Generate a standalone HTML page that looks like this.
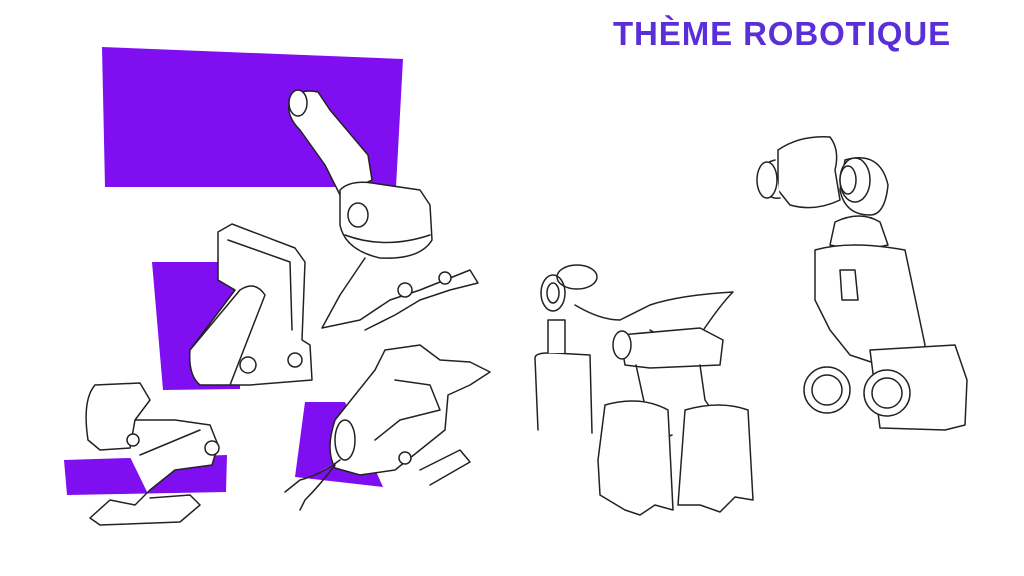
<!DOCTYPE html>
<html><head><meta charset="utf-8"><style>
html,body{margin:0;padding:0;background:#fff;width:1024px;height:576px;overflow:hidden}
.t{position:absolute;left:613px;top:15px;font:bold 33px "Liberation Sans",sans-serif;color:#5a2fd8;letter-spacing:0.9px}
svg{position:absolute;left:0;top:0}
</style></head><body>
<svg width="1024" height="576" viewBox="0 0 1024 576">
<g fill="#7f0ff0">
<polygon points="102,47 403,59 396,187 105,187"/>
<polygon points="152,262 240,262 240,389 163,390"/>
<polygon points="64,460 227,455 226,492 67,495"/>
<polygon points="305,402 345,402 383,487 295,477"/>
</g>
<g fill="#fff" stroke="#222" stroke-width="1.5" stroke-linejoin="round" stroke-linecap="round">
<path d="M290,100 Q300,88 318,92 L330,110 L368,155 L372,180 L340,195 L325,165 L300,130 Q285,115 290,100Z"/>
<ellipse cx="298" cy="103" rx="9" ry="13"/>
<path d="M340,190 Q350,180 372,183 L420,190 L430,205 L432,240 Q420,260 380,258 Q345,250 340,225Z"/>
<ellipse cx="358" cy="215" rx="10" ry="12"/>
<path d="M345,235 Q385,250 430,235"/>
<path d="M365,258 L340,295 L322,328 L360,320 L390,300 L420,290 L470,270 L478,283 L450,290 L420,300 L395,315 L365,330"/>
<circle cx="405" cy="290" r="7"/><circle cx="445" cy="278" r="6"/>
<path d="M218,232 L232,224 L295,248 L305,262 L302,340 L310,345 L312,380 L250,385 L200,385 Q188,375 190,350 L235,290 L218,280Z"/>
<path d="M228,240 L290,262 L292,330"/>
<path d="M190,350 L240,290 Q255,280 265,295 L230,385"/>
<circle cx="248" cy="365" r="8"/><circle cx="295" cy="360" r="7"/>
<path d="M95,385 L140,383 L150,400 L135,420 L175,420 L210,425 L218,445 L212,465 L175,470 L150,490 L135,505 L110,500 L90,518 L100,525 L180,522 L200,505 L190,495 L150,498"/>
<path d="M95,385 Q82,400 88,440 L100,450 L130,448 L135,420"/>
<circle cx="133" cy="440" r="6"/><circle cx="212" cy="448" r="7"/>
<path d="M140,455 L200,430"/>
<path d="M335,420 L375,370 L385,350 L420,345 L440,360 L470,362 L490,372 L470,385 L448,395 L445,430 L420,450 L395,470 L360,475 L335,468 Q325,450 335,420Z"/>
<ellipse cx="345" cy="440" rx="10" ry="20"/>
<path d="M395,380 L430,385 L440,410 L400,420 L375,440"/>
<path d="M420,470 L460,450 L470,462 L430,485"/>
<circle cx="405" cy="458" r="6"/>
<path d="M340,460 Q320,475 300,480 L285,492 M335,465 Q320,485 305,500 L300,510"/>
<path d="M535,358 Q535,352 555,353 L590,355 L592,433 M535,358 L538,430"/>
<path d="M548,353 L548,320 L565,320 L565,353"/>
<ellipse cx="553" cy="293" rx="12" ry="18"/><ellipse cx="553" cy="293" rx="6" ry="10"/>
<ellipse cx="577" cy="277" rx="20" ry="12" fill="none"/>
<path d="M575,305 Q600,320 620,320 L650,305 Q680,295 733,292 Q720,305 700,335 L675,345 L650,330"/>
<path d="M620,335 L700,328 L723,340 L720,365 L650,368 L625,365Z"/>
<ellipse cx="622" cy="345" rx="9" ry="14"/>
<path d="M636,365 L648,420 L660,440 L672,435 M700,365 L705,400 L722,425"/>
<path d="M605,405 Q640,395 668,410 L673,510 L655,505 L640,515 L625,510 L600,495 L598,460Z"/>
<path d="M685,410 Q720,400 748,410 L753,500 L735,497 L720,512 L700,505 L678,505Z"/>
<path d="M778,150 Q800,135 830,137 Q840,150 835,170 L840,200 Q815,212 790,205 L778,190Z"/>
<path d="M775,160 Q755,165 760,185 Q768,200 780,198"/>
<ellipse cx="767" cy="180" rx="10" ry="18"/>
<path d="M845,160 Q880,150 888,185 Q885,215 870,215 Q845,215 840,190Z"/>
<ellipse cx="855" cy="180" rx="15" ry="22"/><ellipse cx="848" cy="180" rx="8" ry="14"/>
<path d="M835,222 Q860,210 880,222 L888,245 Q860,252 830,245Z"/>
<path d="M815,250 Q850,240 905,250 L925,345 L920,360 L880,365 L850,355 L830,330 L815,300Z"/>
<path d="M840,270 L855,270 L858,300 L842,300Z"/>
<path d="M870,350 L955,345 L967,380 L965,425 L945,430 L880,428Z"/>
<circle cx="827" cy="390" r="23"/><circle cx="827" cy="390" r="15"/>
<circle cx="887" cy="393" r="23"/><circle cx="887" cy="393" r="15"/>
</g>
</svg>
<div class="t">THÈME ROBOTIQUE</div>
</body></html>
